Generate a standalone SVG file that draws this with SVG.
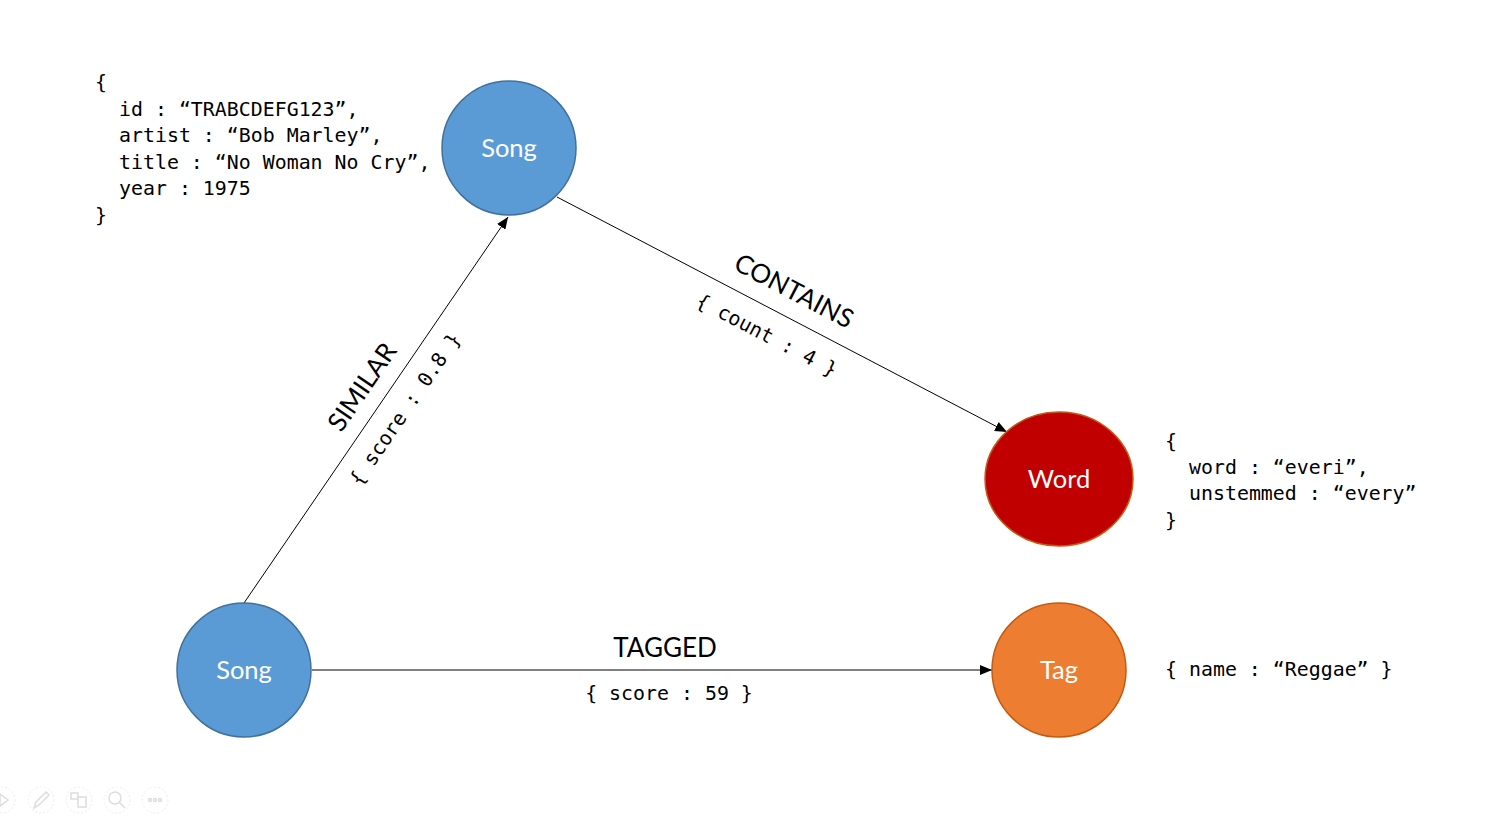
<svg xmlns="http://www.w3.org/2000/svg" width="1512" height="819" viewBox="0 0 1512 819">
<defs>
<marker id="arr" viewBox="0 0 12 10" refX="12" refY="5" markerWidth="12" markerHeight="10" markerUnits="userSpaceOnUse" orient="auto">
<path d="M0,0 L12,5 L0,10 Z" fill="#000"/>
</marker>
</defs>
<style>
.mono{font-family:"DejaVu Sans Mono","Liberation Mono",monospace;font-size:19.9px;fill:#000}
.lbl{font-family:Lato,"Open Sans",sans-serif;font-size:26px;fill:#000}
.nl{font-family:Lato,"Open Sans",sans-serif;font-size:25.5px;fill:#fff;text-anchor:middle}
.edge{stroke:#000;stroke-width:1;fill:none;marker-end:url(#arr)}
.blue{fill:#5B9BD5;stroke:#41719C;stroke-width:1.5}
.tb{fill:none;stroke:#eeeeee;stroke-width:1;stroke-dasharray:2 2}
.tbi{fill:none;stroke:#dddddd;stroke-width:1.5}
</style>
<rect width="1512" height="819" fill="#fff"/>
<g id="connectors">
<line class="edge" x1="244" y1="603" x2="508" y2="217"/>
<line class="edge" x1="557" y1="197" x2="1007" y2="432"/>
<line class="edge" x1="312" y1="670" x2="992" y2="670"/>
</g>
<g id="edge-labels">
<g transform="translate(362,387) rotate(-55.6)"><text class="lbl" x="0" y="9" text-anchor="middle">SIMILAR</text></g>
<g transform="translate(405,409) rotate(-55.6)"><text class="mono" x="0" y="7" text-anchor="middle">{ score : 0.8 }</text></g>
<g transform="translate(794,291) rotate(27.6)"><text class="lbl" x="0" y="9" text-anchor="middle">CONTAINS</text></g>
<g transform="translate(767,335) rotate(27.6)"><text class="mono" x="0" y="7" text-anchor="middle">{ count : 4 }</text></g>
<text class="lbl" x="665" y="657" text-anchor="middle">TAGGED</text>
<text class="mono" x="669" y="700" text-anchor="middle">{ score : 59 }</text>
</g>
<g id="song-top">
<circle class="blue" cx="509" cy="148" r="67"/>
<text class="nl" x="509" y="157">Song</text>
</g>
<g id="song-bottom">
<circle class="blue" cx="244" cy="670" r="67"/>
<text class="nl" x="244" y="679">Song</text>
</g>
<g id="word">
<ellipse cx="1059" cy="479" rx="74" ry="67" fill="#C00000" stroke="#C55A11" stroke-width="1.5"/>
<text class="nl" x="1059" y="488">Word</text>
</g>
<g id="tag">
<circle cx="1059" cy="670" r="67" fill="#ED7D31" stroke="#C55A11" stroke-width="1.5"/>
<text class="nl" x="1059" y="679">Tag</text>
</g>
<g id="song-props">
<text class="mono" x="95" y="89">{</text>
<text class="mono" x="119" y="116">id : “TRABCDEFG123”,</text>
<text class="mono" x="119" y="142">artist : “Bob Marley”,</text>
<text class="mono" x="119" y="169">title : “No Woman No Cry”,</text>
<text class="mono" x="119" y="195">year : 1975</text>
<text class="mono" x="95" y="222">}</text>
</g>
<g id="word-props">
<text class="mono" x="1165" y="448">{</text>
<text class="mono" x="1189" y="474">word : “everi”,</text>
<text class="mono" x="1189" y="500">unstemmed : “every”</text>
<text class="mono" x="1165" y="527">}</text>
</g>
<g id="tag-props">
<text class="mono" x="1165" y="676">{ name : “Reggae” }</text>
</g>
<g id="toolbar">
<circle class="tb" cx="2" cy="800" r="13"/>
<path class="tbi" d="M0,794 L8,800 L0,806 Z"/>
<circle class="tb" cx="41" cy="800" r="13"/>
<path class="tbi" d="M34,808 L36,802 L46,792 L49,795 L39,805 Z"/>
<circle class="tb" cx="79" cy="800" r="13"/>
<rect class="tbi" x="71" y="793" width="7" height="6"/>
<rect class="tbi" x="78" y="797" width="8" height="10"/>
<circle class="tb" cx="117" cy="800" r="13"/>
<circle class="tbi" cx="115" cy="798" r="6"/>
<line class="tbi" x1="119" y1="802" x2="125" y2="808"/>
<circle class="tb" cx="155" cy="800" r="13"/>
<circle class="tbi" cx="150" cy="800" r="1.5"/>
<circle class="tbi" cx="155" cy="800" r="1.5"/>
<circle class="tbi" cx="160" cy="800" r="1.5"/>
</g>
</svg>
